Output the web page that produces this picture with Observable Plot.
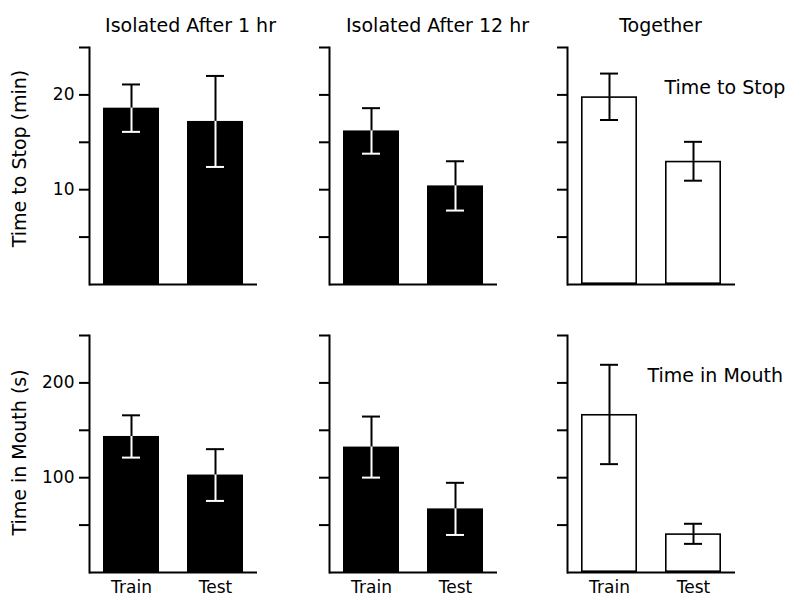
<!DOCTYPE html>
<html><head><meta charset="utf-8">
<script src="https://cdn.jsdelivr.net/npm/d3@7"></script>
<script src="https://cdn.jsdelivr.net/npm/@observablehq/plot@0.6"></script>
<style>
body{margin:0;background:#fff;}
#chart{position:relative;width:790px;height:597px;overflow:hidden;background:#fff;}
#chart > svg{position:absolute;}
</style></head><body><div id="chart"></div>
<script>
const conditions = ["Isolated After 1 hr", "Isolated After 12 hr", "Together"];
const phases = ["Train", "Test"];
const stopMean = [18.6, 17.2, 16.2, 10.4, 19.8, 13.0];
const stopErr = [2.5, 4.8, 2.4, 2.6, 2.45, 2.05];
const mouthMean = [143.5, 102.8, 132.3, 67.1, 166.7, 40.8];
const mouthErr = [22.3, 27.3, 32.2, 27.5, 52.4, 10.6];
const stopTicks = [5, 10, 15, 20, 25];
const stopTickLabels = [10, 20];
const mouthTicks = [50, 100, 150, 200, 250];
const mouthTickLabels = [100, 200];
const rowLabels = ["Time to Stop (min)", "Time in Mouth (s)"];
const insetLabels = ["Time to Stop", "Time in Mouth"];
const barFills = ["black", "black", "white"];

const FONT = "DejaVu Sans";
const rowsCfg = [
  {means: stopMean, errs: stopErr, domain: [0, 25], ticks: stopTicks, labels: stopTickLabels, top: 0, mb: 4, ylabDy: 111, insetDx: 97},
  {means: mouthMean, errs: mouthErr, domain: [0, 250], ticks: mouthTicks, labels: mouthTickLabels, top: 288, mb: 25, ylabDy: 117, insetDx: 80}
];
const colsCfg = [
  {axisX: 89, ml: 89, mr: 25, titleDx: 101},
  {axisX: 329, ml: 20, mr: 40, titleDx: 108},
  {axisX: 567, ml: 20, mr: 54, titleDx: 93}
];
const FW = 168, FH = 237, MT = 47;

const chart = document.getElementById("chart");
rowsCfg.forEach((R, r) => {
  colsCfg.forEach((C, c) => {
    const data = phases.map((p, j) => ({phase: p, mean: R.means[c * 2 + j], err: R.errs[c * 2 + j]}));
    const filled = barFills[c] === "black";
    const inner = filled ? "white" : "black";
    const marks = [
      filled
        ? Plot.barY(data, {x: "phase", y: "mean", fill: "black"})
        : Plot.barY(data, {x: "phase", y: "mean", fill: "white", stroke: "black", strokeWidth: 1.6, inset: 0.8}),
      Plot.ruleX(data, {x: "phase", y1: "mean", y2: d => d.mean + d.err, stroke: "black", strokeWidth: 2}),
      Plot.ruleX(data, {x: "phase", y1: d => d.mean - d.err, y2: "mean", stroke: inner, strokeWidth: 2}),
      Plot.tickY(data, {x: "phase", y: d => d.mean + d.err, stroke: "black", strokeWidth: 2, inset: 19}),
      Plot.tickY(data, {x: "phase", y: d => d.mean - d.err, stroke: inner, strokeWidth: 2, inset: 19}),
      Plot.ruleY([0], {strokeWidth: 2}),
      Plot.frame({anchor: "left", strokeWidth: 2}),
      Plot.axisY({ticks: R.ticks, tickSize: 10, tickPadding: 5, strokeWidth: 2, label: null, fontSize: 17,
        tickFormat: d => (c === 0 && R.labels.includes(d)) ? String(d) : ""})
    ];
    if (r === 1) marks.push(Plot.axisX({tickSize: 0, tickPadding: 8, label: null, fontSize: 17}));
    if (r === 0) marks.push(Plot.text([conditions[c]], {text: d => d, frameAnchor: "top-left", dx: C.titleDx, dy: -16, textAnchor: "middle", lineAnchor: "bottom", fontSize: 19}));
    if (c === 0) marks.push(Plot.text([rowLabels[r]], {text: d => d, frameAnchor: "top-left", dx: -70, dy: R.ylabDy, rotate: -90, textAnchor: "middle", lineAnchor: "middle", fontSize: 19}));
    if (c === 2) marks.push(Plot.text([insetLabels[r]], {text: d => d, frameAnchor: "top-left", dx: R.insetDx, dy: 46, textAnchor: "start", lineAnchor: "bottom", fontSize: 19}));
    const svg = Plot.plot({
      width: C.ml + FW + C.mr,
      height: MT + FH + R.mb,
      marginLeft: C.ml, marginRight: C.mr, marginTop: MT, marginBottom: R.mb,
      x: {domain: phases, paddingInner: 0.33, paddingOuter: 0.16, axis: r === 1 ? undefined : null},
      y: {domain: R.domain},
      style: {fontFamily: FONT, fontSize: "17px", background: "transparent", overflow: "visible", color: "black"},
      marks
    });
    svg.style.left = (C.axisX - C.ml) + "px";
    svg.style.top = R.top + "px";
    svg.style.maxWidth = "none";
    chart.appendChild(svg);
  });
});
</script></body></html>
